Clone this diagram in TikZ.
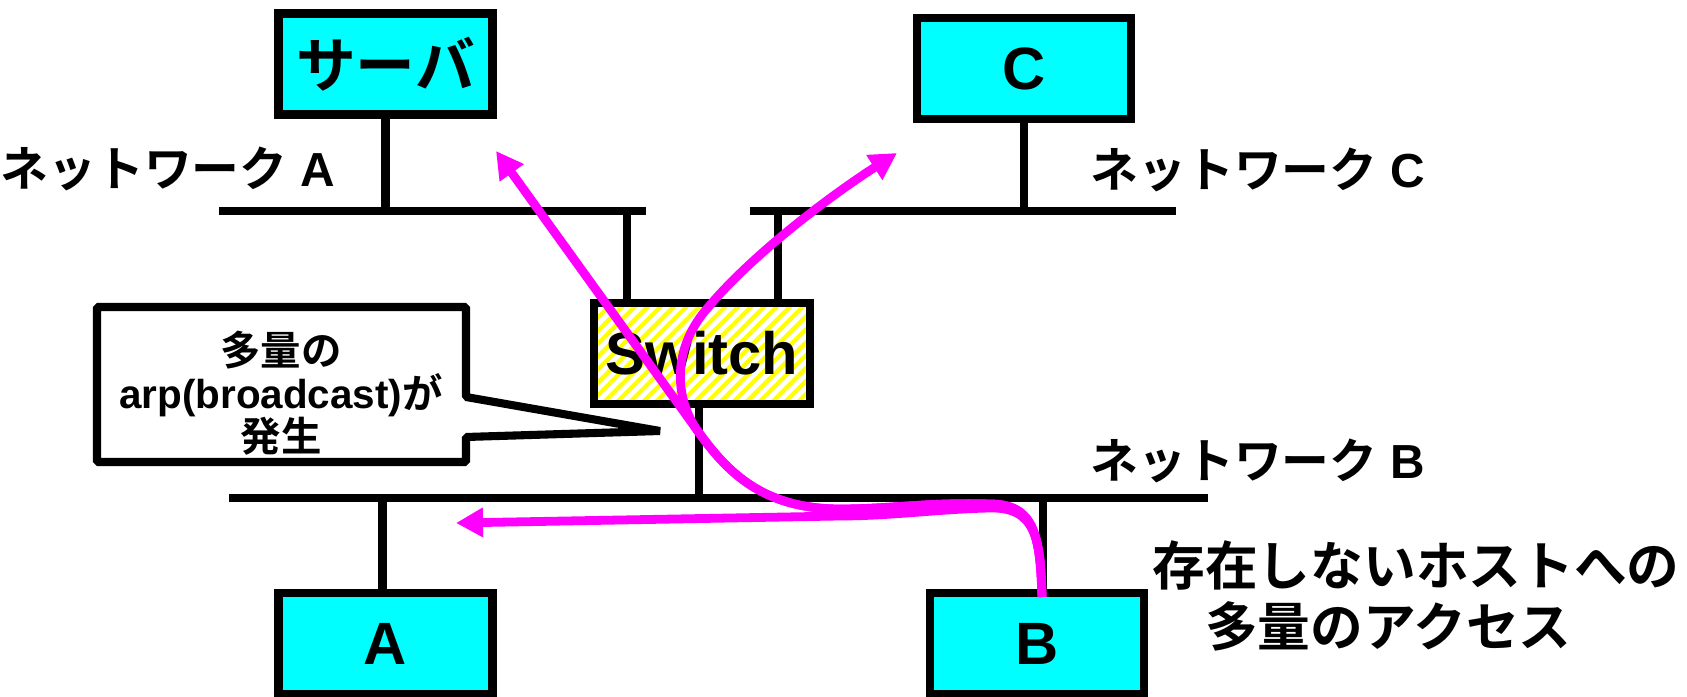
\documentclass[tikz,border=0pt]{standalone}
\usepackage{fontspec}
\setmainfont{Liberation Sans}
\newfontfamily\jp{Noto Sans CJK JP}[BoldFont={* Bold}]
\usetikzlibrary{arrows.meta,patterns.meta}

\definecolor{hostfill}{RGB}{0,255,255}
\definecolor{flowpink}{RGB}{255,0,255}
\definecolor{stripe}{RGB}{255,255,0}

\tikzset{
    host/.style={draw, line width=2.3pt, fill=hostfill, minimum width=2.14cm,
        minimum height=1.01cm, inner sep=0pt, font=\fontsize{17}{20}\selectfont\bfseries},
    net/.style={line width=2.5pt},
    stem/.style={line width=2.3pt},
    flow/.style={flowpink, line width=2.5pt, -{Triangle[length=0.27cm,width=0.28cm]}},
    netlabel/.style={anchor=base west, inner sep=0pt, font=\fontsize{13.6}{16}\selectfont\bfseries},
}

\begin{document}
\begin{tikzpicture}
    % page frame
    \fill[white] (0,0) rectangle (16.87,6.96);
    \useasboundingbox (0,0) rectangle (16.87,6.96);

    % hosts and switch
    \node[host] (srv) at (3.855,6.32) {\jp サーバ};
    \node[host] (hc) at (10.24,6.275) {C};
    \node[host] (ha) at (3.855,0.525) {A};
    \node[host] (hb) at (10.37,0.525) {B};
    \node[draw, line width=2.3pt, minimum width=2.14cm, minimum height=1.01cm,
        pattern={Lines[angle=45,distance=2.6pt,line width=1.2pt]}, pattern color=stripe,
        font=\fontsize{17}{20}\selectfont\bfseries] (sw) at (7.02,3.425) {Switch};

    % network segments
    \coordinate (netA-w) at (2.19,4.85);
    \coordinate (netA-e) at (6.46,4.85);
    \coordinate (netC-w) at (7.50,4.85);
    \coordinate (netC-e) at (11.76,4.85);
    \coordinate (netB-w) at (2.29,1.98);
    \coordinate (netB-e) at (12.08,1.98);
    \draw[net] (netA-w) -- (netA-e);
    \draw[net] (netC-w) -- (netC-e);
    \draw[net] (netB-w) -- (netB-e);

    \draw[stem] (srv.south) -- (srv.south |- netA-w);
    \draw[stem] (hc.south) -- (hc.south |- netC-w);
    \draw[stem] ([xshift=-0.75cm]sw.north) -- ([xshift=-0.75cm]sw.north |- netA-w);
    \draw[stem] ([xshift=0.76cm]sw.north) -- ([xshift=0.76cm]sw.north |- netC-w);
    \draw[stem] ([xshift=-0.03cm]sw.south) -- ([xshift=-0.03cm]sw.south |- netB-w);
    \draw[stem] ([xshift=-0.03cm]ha.north) -- ([xshift=-0.03cm]ha.north |- netB-w);
    \draw[stem] ([xshift=0.06cm]hb.north) -- ([xshift=0.06cm]hb.north |- netB-w);

    % network names
    \node[netlabel] (labA) at (0.0,5.09) {{\jp ネットワーク} A};
    \node[netlabel] (labC) at (10.90,5.08) {{\jp ネットワーク} C};
    \node[netlabel] (labB) at (10.90,2.17) {{\jp ネットワーク} B};

    % callout
    \draw[line width=2.3pt, line join=bevel, fill=white]
        (0.97,3.89) -- (4.66,3.89) -- (4.66,2.99) -- (6.60,2.65)
        -- (4.66,2.59) -- (4.66,2.34) -- (0.97,2.34) -- cycle;
    \node[align=center, inner sep=0pt, font=\fontsize{11.5}{12.3}\selectfont\bfseries] (note) at (2.81,3.03)
        {{\jp 多量の}\\arp(broadcast){\jp が}\\{\jp 発生}};

    % access from B
    \node[align=left, inner sep=0pt, font=\fontsize{15}{17.4}\selectfont\bfseries\jp] (msg) at (14.16,1.00)
        {存在しないホストへの\\\hspace*{1em}多量のアクセス};

    % broadcast flows
    \coordinate (src) at (10.42,0.99);
    \coordinate (tipS) at (4.96,5.45);
    \coordinate (tipC) at (8.97,5.43);
    \coordinate (tipA) at (4.56,1.73);
    \draw[flow] (src) .. controls (10.41,1.58) and (10.35,1.89) .. (9.90,1.88)
        .. controls (9.4,1.87) and (8.9,1.80) .. (8.4,1.80) -- (tipA);
    \draw[flow] (src) .. controls (10.40,1.60) and (10.35,1.92) .. (9.90,1.92)
        .. controls (9.3,1.94) and (8.9,1.87) .. (8.4,1.87)
        .. controls (7.6,1.87) and (7.25,2.27) .. (6.97,2.66) -- (tipS);
    \draw[flow] (src) .. controls (10.40,1.60) and (10.35,1.92) .. (9.90,1.92)
        .. controls (9.3,1.94) and (8.9,1.87) .. (8.4,1.87)
        .. controls (7.6,1.87) and (7.25,2.27) .. (6.97,2.66)
        .. controls (6.75,2.98) and (6.72,3.45) .. (7.05,3.85)
        .. controls (7.5,4.4) and (8.3,5.0) .. (tipC);
\end{tikzpicture}
\end{document}
